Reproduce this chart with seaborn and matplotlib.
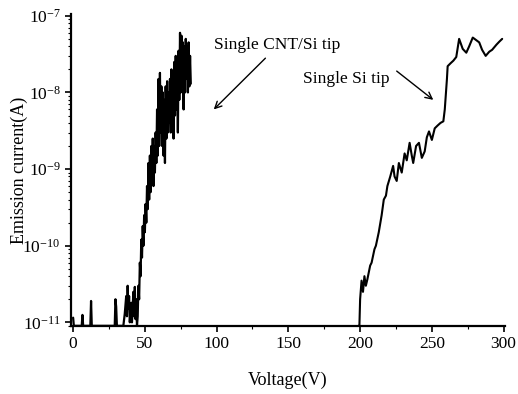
import numpy as np
import pandas as pd
import matplotlib
matplotlib.use('Agg')
import matplotlib.pyplot as plt
import matplotlib.ticker as mticker
import seaborn as sns

# 单根 CNT/Si 针尖 (电压 V, 发射电流 A)
cnt_voltage = [
    0, 0.5, 6, 6.5, 7, 12, 12.5, 13, 29, 29.5, 30, 30.5, 35, 36, 37, 37.5, 38, 38.5,
    39, 39.5, 40.5, 41, 42, 42.5, 43, 43.5, 44, 44.5, 45, 45.5, 46, 46.5, 47, 47.5,
    48, 48.5, 49, 49.5, 50, 50.5, 51, 51.5, 52, 52.5, 53, 53.5, 54, 54.5, 55, 55.5,
    56, 56.5, 57, 57.5, 58, 58.5, 59, 59.5, 60, 60.5, 61, 61.5, 62, 62.5, 63, 63.5,
    64, 64.5, 65, 65.5, 66, 66.5, 67, 67.5, 68, 68.5, 69, 69.5, 70, 70.5, 71, 71.5,
    72, 72.5, 73, 73.5, 74, 74.5, 75, 75.5, 76, 76.5, 77, 77.5, 78, 78.5, 79, 79.5,
    80, 80.5, 81, 81.5, 82,
]
cnt_current = [
    1.15e-11, 9e-12, 9e-12, 1.25e-11, 9e-12, 9e-12, 1.9e-11, 9e-12, 9e-12, 2e-11, 1.6e-11, 9e-12,
    9e-12, 1.3e-11, 2.2e-11, 1.2e-11, 3e-11, 1.5e-11, 2.2e-11, 1e-11, 1.8e-11, 1e-11, 2.5e-11,
    1.2e-11, 2.9e-11, 1.1e-11, 2e-11, 9e-12, 1.2e-11, 3e-11, 2e-11, 6e-11, 4e-11, 1.2e-10,
    7e-11, 1.8e-10, 1e-10, 2.5e-10, 1.5e-10, 3.5e-10, 2e-10, 6e-10, 3e-10, 1.2e-9, 4e-10, 1.5e-9,
    5e-10, 2e-9, 7e-10, 2.5e-9, 6e-10, 2e-9, 9e-10, 3e-9, 1.2e-9, 6e-9, 1.5e-9, 1.5e-8,
    2e-9, 1.8e-8, 3e-9, 1.2e-8, 2e-9, 1e-8, 1.5e-9, 8e-9, 1.2e-9, 1.2e-8, 2.5e-9, 1.4e-8,
    3e-9, 1e-8, 4e-9, 1.5e-8, 3e-9, 2e-8, 5e-9, 1.2e-8, 2.5e-9, 2.5e-8, 5e-9, 3e-8,
    6e-9, 2.5e-8, 3e-9, 3.5e-8, 8e-9, 6e-8, 1e-8, 5.5e-8, 1.2e-8, 4.5e-8, 6e-9, 4e-8,
    1e-8, 5e-8, 1.5e-8, 4e-8, 1e-8, 4.5e-8, 1.2e-8, 3e-8, 1.3e-8,
]

# 单根 Si 针尖
si_voltage = [
    199, 199.5, 200, 201, 202, 203, 204, 205, 207, 208, 210, 211, 213, 215, 216.5,
    218, 219, 221, 223, 224, 225.5, 227, 229, 231, 232.5, 234.5, 236, 237, 239, 241,
    243, 245, 246.5, 248, 250, 252, 254, 256, 258, 259, 260.5, 261, 263, 265, 267,
    269, 271.5, 274, 276, 278.5, 281, 283, 285, 287.5, 290, 292, 295, 297, 299,
]
si_current = [
    9e-12, 9e-12, 2e-11, 3.5e-11, 2.5e-11, 4e-11, 3e-11, 3.6e-11, 5.5e-11, 6e-11, 9e-11, 1e-10,
    1.5e-10, 2.5e-10, 4e-10, 4.5e-10, 6e-10, 8e-10, 1.1e-9, 8e-10, 7e-10, 1.2e-9, 9e-10, 1.6e-9,
    1.3e-9, 2.2e-9, 1.5e-9, 1.2e-9, 2e-9, 2.2e-9, 1.4e-9, 1.7e-9, 2.6e-9, 3.1e-9, 2.4e-9, 3.4e-9,
    3.7e-9, 4e-9, 4.2e-9, 6e-9, 1.5e-8, 2.2e-8, 2.4e-8, 2.6e-8, 2.9e-8, 5e-8, 3.7e-8, 3.3e-8,
    4e-8, 5.2e-8, 4.8e-8, 4.5e-8, 3.6e-8, 3e-8, 3.4e-8, 3.6e-8, 4.2e-8, 4.6e-8, 5e-8,
]

x_ticks = [0, 50, 100, 150, 200, 250, 300]
y_ticks = [1e-11, 1e-10, 1e-9, 1e-8, 1e-7]
y_tick_labels = ['$10^{-11}$', '$10^{-10}$', '$10^{-9}$', '$10^{-8}$', '$10^{-7}$']

sns.set_theme(style='ticks')
plt.rcParams['font.family'] = ['Liberation Serif', 'DejaVu Serif']
plt.rcParams['mathtext.fontset'] = 'custom'
plt.rcParams['mathtext.rm'] = 'Liberation Serif'
plt.rcParams['mathtext.it'] = 'Liberation Serif:italic'

cnt_df = pd.DataFrame({'Voltage': cnt_voltage, 'Current': cnt_current})
si_df = pd.DataFrame({'Voltage': si_voltage, 'Current': si_current})

fig = plt.figure(figsize=(5.18, 3.94), dpi=100)
ax = fig.add_axes([0.137, 0.173, 0.838, 0.791])

sns.lineplot(data=cnt_df, x='Voltage', y='Current', estimator=None, sort=False,
             color='black', linewidth=1.6, ax=ax)
sns.lineplot(data=si_df, x='Voltage', y='Current', estimator=None, sort=False,
             color='black', linewidth=1.5, ax=ax)

ax.set_yscale('log')
ax.set_xlim(-1.5, 301)
ax.set_ylim(9e-12, 1.05e-7)
ax.set_xticks(x_ticks)
ax.set_yticks(y_ticks)
ax.set_yticklabels(y_tick_labels)
ax.xaxis.set_minor_locator(mticker.MultipleLocator(25))
ax.yaxis.set_minor_locator(mticker.LogLocator(base=10, subs=np.arange(2, 10)))
ax.yaxis.set_minor_formatter(mticker.NullFormatter())
ax.tick_params(axis='both', which='major', direction='out', length=4, width=1.2,
               labelsize=12.5, color='black', labelcolor='black')
ax.tick_params(axis='both', which='minor', direction='out', length=2, width=0.8, color='black')

for side in ['top', 'right']:
    ax.spines[side].set_visible(False)
for side in ['left', 'bottom']:
    ax.spines[side].set_color('black')
    ax.spines[side].set_linewidth(1.6)

ax.set_xlabel('Voltage(V)', fontsize=13, color='black', labelpad=14)
ax.set_ylabel('Emission current(A)', fontsize=13, color='black')
ax.yaxis.set_label_coords(-0.10, 0.5)

# 标注
ax.text(98, 4.2e-8, 'Single CNT/Si tip', fontsize=12.5, color='black',
        ha='left', va='center')
ax.annotate('', xy=(98, 6e-9), xytext=(134, 2.8e-8),
            arrowprops=dict(arrowstyle='->', color='black', lw=1.0,
                            shrinkA=0, shrinkB=0))
ax.text(160.5, 1.5e-8, 'Single Si tip', fontsize=12.5, color='black',
        ha='left', va='center')
ax.annotate('', xy=(251, 8e-9), xytext=(225.5, 1.9e-8),
            arrowprops=dict(arrowstyle='->', color='black', lw=1.0,
                            shrinkA=0, shrinkB=0))

fig.savefig('out.png', dpi=100)
